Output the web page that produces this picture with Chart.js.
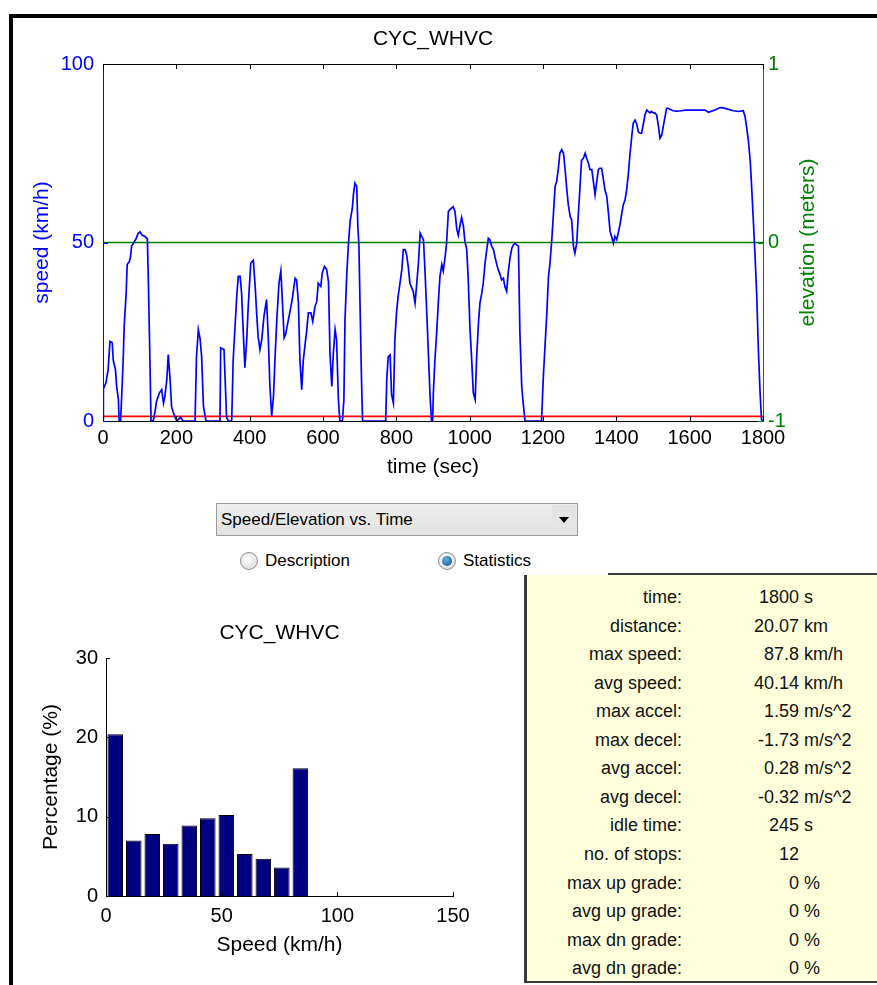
<!DOCTYPE html>
<html lang="en">

<head>
    <meta charset="UTF-8">
    <script src="https://cdn.jsdelivr.net/npm/chart.js"></script>
    <title>CYC_WHVC</title>
    <style>
        body { margin: 0; background: #fff; font-family: 'Liberation Sans', Arial, sans-serif; }
        #pagina { position: relative; width: 877px; height: 985px; overflow: hidden; }
        .moldura { position: absolute; background: #000; }
        canvas { position: absolute; }
        #combo { position: absolute; left: 216px; top: 503px; width: 360px; height: 31px; border: 1px solid #9c9c9c;
                 background: linear-gradient(#efefef, #e2e2e2); font-size: 17px; line-height: 31px; }
        #combo span { position: absolute; left: 4px; }
        #combo .seta { position: absolute; right: 1px; top: 1px; width: 24px; height: 29px; background: #e4e4e4; }
        #combo .seta:after { content: ''; position: absolute; left: 7px; top: 12px; border-left: 5px solid transparent;
                 border-right: 5px solid transparent; border-top: 6px solid #000; }
        .radio { position: absolute; top: 551px; font-size: 17px; line-height: 20px; }
        .radio i { position: absolute; left: 0; top: 1px; width: 16px; height: 16px; border-radius: 50%; border: 1px solid #8e8e8e;
                   background: radial-gradient(circle at 40% 35%, #ffffff, #d6d6d6); }
        .radio.on i:after { content: ''; position: absolute; left: 3px; top: 3px; width: 10px; height: 10px; border-radius: 50%;
                   background: radial-gradient(circle at 40% 35%, #5fb2e6, #104a7a); }
        .radio span { position: absolute; left: 25px; white-space: nowrap; }
        #painel { position: absolute; left: 524px; top: 575px; width: 350px; height: 406px; background: #ffffdc;
                  border-left: 3px solid #3c3c3c; border-bottom: 2px solid #3c3c3c; font-size: 18px; color: #111; }
        #painelTopo { position: absolute; left: 608px; top: 573px; width: 269px; height: 2px; background: #3c3c3c; }
        .linha { position: absolute; left: 0; width: 350px; height: 22px; line-height: 22px; white-space: nowrap; }
        .linha .rot { position: absolute; left: 0; width: 155px; text-align: right; }
        .linha .num { position: absolute; left: 200px; width: 72px; text-align: right; }
        .linha .uni { position: absolute; left: 277px; }
    </style>
</head>

<body>
    <div id="pagina">
        <div class="moldura" style="left:9px;top:14px;width:868px;height:4px"></div>
        <div class="moldura" style="left:9px;top:14px;width:4px;height:971px"></div>

        <canvas id="speedChart" width="863" height="480" style="left:14px;top:20px"></canvas>

        <div id="combo"><span>Speed/Elevation vs. Time</span><div class="seta"></div></div>
        <div class="radio" style="left:240px"><i></i><span>Description</span></div>
        <div class="radio on" style="left:438px"><i></i><span>Statistics</span></div>

        <canvas id="histChart" width="490" height="380" style="left:14px;top:600px"></canvas>

        <div id="painelTopo"></div>
        <div id="painel"></div>
    </div>

<script>
    // ---- speed trace ----
    const tempo = [0, 1, 8, 14, 19, 25, 28, 34, 37, 42, 44, 48, 51, 55, 58, 63, 66, 72, 75, 78, 83, 90, 96, 101, 107, 115, 121, 124, 128, 131,
        137, 142, 146, 154, 160, 165, 169, 174, 178, 183, 187, 192, 201, 212, 218, 251, 255, 260, 265, 269, 274, 281,
        319, 321, 330, 333, 337, 342, 351, 355, 365, 369, 374, 378, 383, 387, 392, 396, 403, 410, 415, 419, 423, 428, 433, 439, 446,
        451, 455, 460, 465, 469, 474, 480, 485, 489, 494, 498, 504, 510, 516, 524, 528, 533, 537, 542, 546, 551, 555, 560, 567,
        572, 578, 583, 587, 594, 598, 604, 610, 615, 619, 624, 628, 633, 637, 642, 646, 653, 657, 660, 665, 669, 674, 680, 683,
        687, 692, 695, 698, 701, 705, 708, 771, 774, 778, 783, 787, 792, 796, 801, 805, 810, 815, 819, 824, 828, 833, 837, 842,
        846, 851, 855, 860, 865, 869, 874, 878, 883, 887, 892, 896, 899, 901, 905, 910, 915, 919, 924, 928, 933, 937, 942, 946,
        955, 960, 965, 969, 974, 978, 983, 987, 992, 996, 1001, 1005, 1010, 1015, 1019, 1024, 1028, 1033, 1037, 1042, 1046,
        1051, 1055, 1060, 1065, 1069, 1074, 1078, 1083, 1087, 1092, 1096, 1101, 1105, 1110, 1115, 1119, 1124, 1128, 1133,
        1137, 1142, 1146, 1151, 1196, 1201, 1205, 1210, 1215, 1219, 1224, 1228, 1233, 1237, 1242, 1246, 1251, 1256, 1260,
        1265, 1269, 1274, 1278, 1283, 1287, 1292, 1296, 1301, 1305, 1310, 1315, 1319, 1324, 1328, 1333, 1337, 1342, 1346,
        1351, 1355, 1360, 1365, 1369, 1374, 1378, 1383, 1387, 1392, 1396, 1401, 1405, 1410, 1415, 1419, 1424, 1428, 1433,
        1437, 1442, 1446, 1451, 1455, 1460, 1465, 1469, 1474, 1478, 1483, 1487, 1492, 1496, 1501, 1505, 1510, 1515, 1519,
        1524, 1528, 1533, 1537, 1542, 1546, 1555, 1564, 1578, 1587, 1615, 1642, 1651, 1660, 1669, 1683, 1692, 1706, 1719,
        1733, 1746, 1751, 1755, 1760, 1765, 1769, 1774, 1778, 1783, 1787, 1792, 1796, 1800];
    const velocidade = [0, 9, 10.7, 14.4, 22.3, 22, 17, 14.4, 10, 6, 0, 0, 7, 17, 27, 35.4, 43.8, 44.7, 46, 49, 49.8, 51, 52.6, 53, 52, 51.7, 51, 38, 16.7, 0,
        0, 2.7, 5.5, 7.9, 8.8, 5, 7, 11.6, 18.6, 11.6, 4, 2.3, 0, 1, 0, 0, 18, 25.6, 22.8, 18, 4, 0,
        0, 20.5, 20, 12, 1, 0, 0, 17, 35.4, 40.5, 40.5, 35.8, 23.7, 14.9, 22.8, 32, 44.2, 45, 37.7, 30.3, 23.7, 20, 22.8, 29.3, 34,
        22.8, 10.2, 1.4, 7, 17.2, 28.4, 38.6, 42, 34, 23.3, 24.2, 27.5, 30.7, 34, 40, 39.5, 33, 17.2, 8.8, 16.7, 21.4, 24.7, 30.3, 30.3,
        27.9, 32, 33.5, 38.6, 37.7, 41.5, 43.3, 42.4, 39, 19, 9.7, 18.6, 25.6, 22.8, 6, 0, 0, 6, 28.4, 41.5, 49, 56, 59.6, 63.4,
        66.6, 65.7, 54.5, 49, 32.6, 11.6, 0, 0, 12, 18, 18.5, 7.4, 5, 22.8, 31, 35, 38.6, 42.4, 48, 48, 46.6, 42.8, 38.6, 37.3,
        36.3, 33, 37.7, 43.8, 52.6, 51.7, 50.8, 42.4, 30.3, 20, 7, 0, 0, 7.9, 16.7, 24.7, 34, 40.5, 43.8, 42, 46, 49.8, 58.7, 59.2,
        60, 58.7, 53.6, 52, 55, 57, 54.5, 50.3, 48, 40, 25.6, 18.1, 7.9, 6, 17.7, 27.5, 33, 35.8, 38.6, 44.2, 47.5,
        51.2, 50.8, 49, 48, 46, 43.8, 42.4, 41, 39.5, 40, 37.7, 36.3, 41.5, 45.6, 48.4, 49.3, 49.8, 49.3, 49,
        24.7, 9.7, 5, 0, 0, 12.6, 20, 29.3, 40.5, 44.2, 50.8, 57.3, 65.7, 67, 70.8, 75, 76, 75, 70.8,
        64.7, 60.6, 57.3, 56.4, 49, 47, 49.8, 57.3, 65.7, 73, 73.6, 75, 73.6, 72.2, 70.4, 70.4, 67.5, 63.4, 66.6,
        70.4, 70.8, 70.8, 67.5, 64.7, 62.9, 58.7, 53.1, 51.7, 49.8, 51.7, 50.8, 52.6, 55, 58.2, 60.6, 62, 64.7, 69.4,
        74.5, 79.7, 83.4, 84.3, 83.4, 81, 80.6, 80.6, 83.4, 85.7, 87.1, 86.7, 86.3, 86.7, 86.3, 86.3, 85.7, 82.5, 79.2,
        80.1, 82.5, 85.3, 87.6, 87.6, 87.3, 86.9, 86.8, 86.9, 87.1, 87.1, 87.1, 86.5, 86.8, 87.1, 87.8, 87.7, 87.3, 86.9,
        86.7, 86.9, 85.3, 82.5, 78.7, 73.1, 65.7, 55.4, 47, 35, 21, 7.9, 0.4, 0];
    const elevacaoTempo = [0, 1800];
    const elevacao = [0, 0];
    const linhaVermelha = [1.3, 1.3];

    // ---- speed histogram ----
    const classesVel = [4, 12, 20, 28, 36, 44, 52, 60, 68, 76, 84];
    const percentuais = [20.4, 7.0, 7.8, 6.6, 8.9, 9.8, 10.2, 5.3, 4.7, 3.6, 16.1];

    // ---- statistics box ----
    const estatRotulos = ['time:', 'distance:', 'max speed:', 'avg speed:', 'max accel:', 'max decel:', 'avg accel:', 'avg decel:',
        'idle time:', 'no. of stops:', 'max up grade:', 'avg up grade:', 'max dn grade:', 'avg dn grade:'];
    const estatValores = ['1800', '20.07', '87.8', '40.14', '1.59', '-1.73', '0.28', '-0.32', '245', '12', '0', '0', '0', '0'];
    const estatUnidades = ['s', 'km', 'km/h', 'km/h', 'm/s^2', 'm/s^2', 'm/s^2', 'm/s^2', 's', '', '%', '%', '%', '%'];

    Chart.defaults.font.family = "'Liberation Sans', Arial, sans-serif";
    Chart.defaults.color = '#000';

    const semSeparador = v => String(v);

    // ticks para dentro, estilo matlab
    const ticksInternos = {
        id: 'ticksInternos',
        afterDatasetsDraw(chart, args, opts) {
            const ctx = chart.ctx, a = chart.chartArea, len = opts.len || 5;
            ctx.save();
            ctx.lineWidth = 1;
            (opts.eixos || []).forEach(e => {
                const s = chart.scales[e.id];
                ctx.strokeStyle = e.cor;
                s.ticks.forEach(t => {
                    const p = Math.round(s.getPixelForValue(t.value)) + 0.5;
                    ctx.beginPath();
                    if (s.isHorizontal()) {
                        ctx.moveTo(p, a.bottom); ctx.lineTo(p, a.bottom - len);
                        if (e.topo) { ctx.moveTo(p, a.top); ctx.lineTo(p, a.top + len); }
                    } else if (s.position === 'left') {
                        ctx.moveTo(a.left, p); ctx.lineTo(a.left + len, p);
                    } else {
                        ctx.moveTo(a.right, p); ctx.lineTo(a.right - len, p);
                    }
                    ctx.stroke();
                });
            });
            if (opts.caixa) {
                ctx.strokeStyle = '#000';
                ctx.beginPath();
                ctx.moveTo(a.left, a.top + 0.5);
                ctx.lineTo(a.right, a.top + 0.5);
                ctx.stroke();
            }
            if (opts.tituloDireita) {
                const td = opts.tituloDireita;
                ctx.fillStyle = td.cor;
                ctx.font = td.fonte;
                ctx.textAlign = 'center';
                ctx.textBaseline = 'middle';
                ctx.translate(td.x, (a.top + a.bottom) / 2);
                ctx.rotate(-Math.PI / 2);
                ctx.fillText(td.texto, 0, 0);
            }
            ctx.restore();
        }
    };

    const speedChart = new Chart(document.getElementById('speedChart'), {
        type: 'line',
        data: {
            datasets: [{
                label: 'speed',
                data: tempo.map((t, i) => ({ x: t, y: velocidade[i] })),
                borderColor: '#0000ff',
                borderWidth: 1.7,
                pointRadius: 0,
                tension: 0,
                yAxisID: 'y'
            }, {
                label: 'elevation',
                data: elevacaoTempo.map((t, i) => ({ x: t, y: elevacao[i] })),
                borderColor: '#008000',
                borderWidth: 1.6,
                pointRadius: 0,
                yAxisID: 'y2'
            }, {
                label: 'ref',
                data: elevacaoTempo.map((t, i) => ({ x: t, y: linhaVermelha[i] })),
                borderColor: '#ff0000',
                borderWidth: 1.6,
                pointRadius: 0,
                yAxisID: 'y'
            }]
        },
        options: {
            responsive: false,
            animation: false,
            layout: { padding: 0 },
            plugins: {
                legend: { display: false },
                tooltip: { enabled: false },
                title: {
                    display: true, text: 'CYC_WHVC', fullSize: false, color: '#000',
                    font: { size: 21, weight: 'normal' }, padding: { top: 6.4, bottom: 12.4 }
                },
                ticksInternos: {
                    len: 5, caixa: true,
                    eixos: [{ id: 'x', cor: '#000', topo: true }, { id: 'y', cor: '#0000ff' }, { id: 'y2', cor: '#008000' }],
                    tituloDireita: { texto: 'elevation (meters)', cor: '#008000', fonte: "21px 'Liberation Sans', Arial, sans-serif", x: 794 }
                }
            },
            scales: {
                x: {
                    type: 'linear', min: 0, max: 1800,
                    grid: { display: false, drawTicks: false },
                    border: { display: true, color: '#000', width: 1 },
                    ticks: { stepSize: 200, autoSkip: false, maxRotation: 0, padding: 5, color: '#000', font: { size: 20 }, callback: semSeparador },
                    title: { display: true, text: 'time (sec)', color: '#000', font: { size: 21 }, padding: { bottom: 20.4 } },
                    afterFit(s) { s.height = 79; }
                },
                y: {
                    position: 'left', min: 0, max: 100,
                    grid: { display: false, drawTicks: false },
                    border: { display: true, color: '#0000ff', width: 1 },
                    ticks: { stepSize: 50, padding: 9, color: '#0000ff', font: { size: 20 }, callback: semSeparador },
                    title: { display: true, text: 'speed (km/h)', color: '#0000ff', font: { size: 21 }, padding: { top: 15.4 } },
                    afterFit(s) { s.width = 89; }
                },
                y2: {
                    position: 'right', min: -1, max: 1,
                    grid: { display: false, drawTicks: false },
                    border: { display: true, color: '#008000', width: 1 },
                    ticks: { stepSize: 1, padding: 5, color: '#008000', font: { size: 20 }, callback: semSeparador },
                    afterFit(s) { s.width = 114; }
                }
            }
        },
        plugins: [ticksInternos]
    });

    const histChart = new Chart(document.getElementById('histChart'), {
        type: 'bar',
        data: {
            datasets: [{
                label: 'Percentage',
                data: classesVel.map((c, i) => ({ x: c, y: percentuais[i] })),
                backgroundColor: '#000080',
                borderColor: '#000000',
                borderWidth: 1,
                barPercentage: 0.84,
                categoryPercentage: 1
            }]
        },
        options: {
            responsive: false,
            animation: false,
            layout: { padding: { right: 51 } },
            plugins: {
                legend: { display: false },
                tooltip: { enabled: false },
                title: {
                    display: true, text: 'CYC_WHVC', fullSize: false, color: '#000',
                    font: { size: 21, weight: 'normal' }, padding: { top: 20.4, bottom: 12.4 }
                },
                ticksInternos: { len: 4, eixos: [{ id: 'x', cor: '#000' }, { id: 'y', cor: '#000' }] }
            },
            scales: {
                x: {
                    type: 'linear', min: 0, max: 150, offset: false,
                    grid: { display: false, drawTicks: false, offset: false },
                    border: { display: true, color: '#000', width: 1 },
                    ticks: { stepSize: 50, autoSkip: false, maxRotation: 0, padding: 8, color: '#000', font: { size: 20 }, callback: semSeparador },
                    title: { display: true, text: 'Speed (km/h)', color: '#000', font: { size: 21 }, padding: { bottom: 22.4 } },
                    afterFit(s) { s.height = 84; }
                },
                y: {
                    min: 0, max: 30,
                    grid: { display: false, drawTicks: false },
                    border: { display: true, color: '#000', width: 1 },
                    ticks: { stepSize: 10, padding: 8, color: '#000', font: { size: 20 }, callback: semSeparador },
                    title: { display: true, text: 'Percentage (%)', color: '#000', font: { size: 21 }, padding: { top: 24.4 } },
                    afterFit(s) { s.width = 92; }
                }
            }
        },
        plugins: [ticksInternos]
    });

    // quadro de estatisticas
    const painel = document.getElementById('painel');
    estatRotulos.forEach((r, i) => {
        const linha = document.createElement('div');
        linha.className = 'linha';
        linha.style.top = (22 - 11 + i * 28.56) + 'px';
        linha.innerHTML = '<span class="rot"></span><span class="num"></span><span class="uni"></span>';
        linha.children[0].textContent = r;
        linha.children[1].textContent = estatValores[i];
        linha.children[2].textContent = estatUnidades[i];
        painel.appendChild(linha);
    });
</script>
</body>

</html>
